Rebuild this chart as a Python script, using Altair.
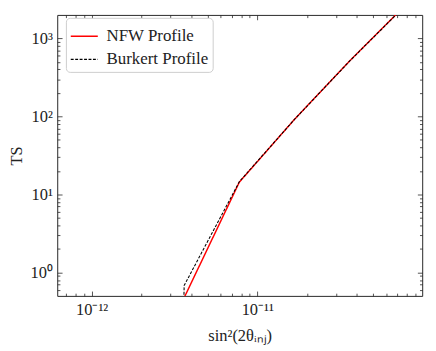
import altair as alt
import pandas as pd
import math

# ---- data ----
sin2 = [1.67e-12, 3.62e-12, 7.8e-12, 1.68e-11, 3.62e-11, 7.8e-11]
ts_nfw = [1e-30, 0.475, 14.4, 92.0, 517.0, 2640.0]
ts_burkert = [1e-30, 0.68, 14.6, 92.0, 515.0, 2620.0]
profiles = ["NFW Profile", "Burkert Profile"]
colors = ["#ff0000", "#000000"]
dashes = [[1, 0], [3, 1.6]]
widths = [1.5, 1.1]

x_major = [1e-12, 1e-11]
x_major_labels = ["10⁻¹²", "10⁻¹¹"]
x_minor = [7e-13, 8e-13, 9e-13] + [k * 1e-12 for k in range(2, 10)] + [k * 1e-11 for k in range(2, 10)]
y_major = [1, 10, 100, 1000]
y_major_labels = ["10⁰", "10¹", "10²", "10³"]
y_minor = [0.6, 0.7, 0.8, 0.9] + [k * m for m in (1, 10, 100) for k in range(2, 10)]

x_domain = [6.2e-13, 9.9e-11]
y_domain = [0.5, 2000]

W, H = 378, 291
FONT = "Liberation Serif"
TXT = "#222222"

rows = []
for p, ts in zip(profiles, [ts_nfw, ts_burkert]):
    for x, y in zip(sin2, ts):
        rows.append({"sin2": x, "TS": y, "Profile": p})
df = pd.DataFrame(rows)


def label_expr(vals, labels):
    expr = "''"
    for v, lab in zip(vals, labels):
        e = round(math.log10(v))
        expr = f"(round(log(datum.value)/LN10) == {e} ? '{lab}' : {expr})"
    return expr


xs = alt.Scale(type="log", domain=x_domain, nice=False)
ys = alt.Scale(type="log", domain=y_domain, nice=False)

color = alt.Color("Profile:N", scale=alt.Scale(domain=profiles, range=colors),
                  legend=alt.Legend(title=None, orient="none", legendX=9, legendY=3,
                                    symbolType="stroke", symbolSize=784,
                                    labelFont=FONT, labelFontSize=17.5,
                                    labelColor=TXT, labelOffset=8,
                                    rowPadding=-4, padding=4,
                                    strokeColor="#cccccc", fillColor="white",
                                    cornerRadius=4))
dash = alt.StrokeDash("Profile:N", scale=alt.Scale(domain=profiles, range=dashes))
sw = alt.StrokeWidth("Profile:N", scale=alt.Scale(domain=profiles, range=widths))

xmain = alt.X("sin2:Q", scale=xs,
              axis=alt.Axis(orient="bottom", values=x_major,
                            labelExpr=label_expr(x_major, x_major_labels),
                            ticks=False, domain=False, grid=False,
                            labelFont=FONT, labelFontSize=17, labelColor=TXT,
                            labelPadding=6, labelFlush=False,
                            title="sin²(2θᵢₙⱼ)", titleFont=FONT, titleFontSize=17,
                            titleFontWeight="normal", titleColor=TXT,
                            titlePadding=11))
ymain = alt.Y("TS:Q", scale=ys,
              axis=alt.Axis(orient="left", values=y_major,
                            labelExpr=label_expr(y_major, y_major_labels),
                            ticks=False, domain=False, grid=False,
                            labelFont=FONT, labelFontSize=17, labelColor=TXT,
                            labelPadding=5, labelFlush=False,
                            title="TS", titleFont=FONT, titleFontSize=17,
                            titleFontWeight="normal", titleColor=TXT,
                            titlePadding=5))

nfw = alt.Chart(df).transform_filter(alt.datum.Profile == profiles[0]).mark_line(clip=True).encode(
    x=xmain, y=ymain, color=color, strokeDash=dash, strokeWidth=sw)
bur = alt.Chart(df).transform_filter(alt.datum.Profile == profiles[1]).mark_line(clip=True).encode(
    x=xmain, y=ymain, color=color, strokeDash=dash, strokeWidth=sw)
lines = alt.layer(nfw, bur)


def tick_layer(xorient, yorient, xvals, yvals, size):
    return alt.Chart(df).mark_point(opacity=0, clip=True).encode(
        x=alt.X("sin2:Q", scale=xs,
                axis=alt.Axis(orient=xorient, offset=-H, values=xvals, tickSize=size,
                              tickColor=TXT, tickWidth=0.8, labels=False,
                              domain=False, grid=False, title=None)),
        y=alt.Y("TS:Q", scale=ys,
                axis=alt.Axis(orient=yorient, offset=-W, values=yvals, tickSize=size,
                              tickColor=TXT, tickWidth=0.8, labels=False,
                              domain=False, grid=False, title=None)),
    )


chart = alt.layer(
    lines,
    tick_layer("top", "right", x_major, y_major, 5),
    tick_layer("top", "right", x_minor, y_minor, 2.8),
    tick_layer("bottom", "left", x_major, y_major, 5),
    tick_layer("bottom", "left", x_minor, y_minor, 2.8),
).resolve_scale(x="independent", y="independent").properties(
    width=W, height=H, padding={"left": 0, "top": 0, "right": 5, "bottom": 5}
).configure_view(stroke=TXT, strokeWidth=1)

chart.save("out.html", embed_options={"renderer": "svg", "actions": False})
